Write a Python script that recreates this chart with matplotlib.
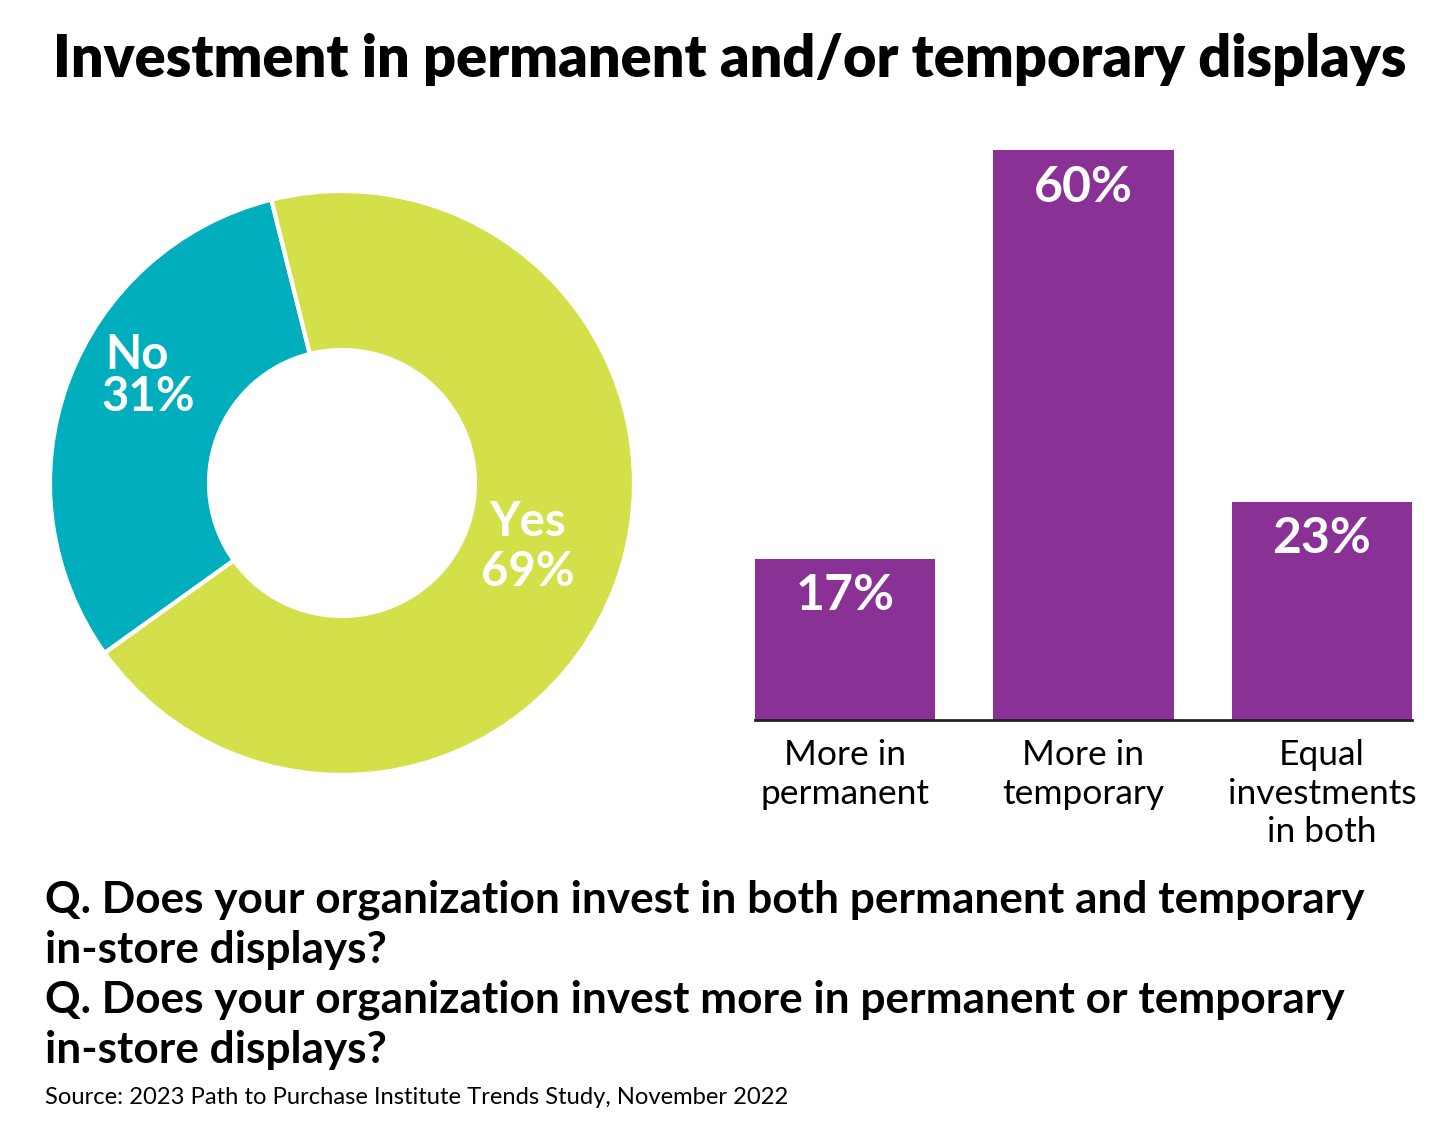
import matplotlib.pyplot as plt

# Data
pie_labels = ["No", "Yes"]
pie_values = [31, 69]
bar_labels = ["More in\npermanent", "More in\ntemporary", "Equal\ninvestments\nin both"]
bar_values = [17, 60, 23]

title = "Investment in permanent and/or temporary displays"
question_lines = [
    "Q. Does your organization invest in both permanent and temporary",
    "in-store displays?",
    "Q. Does your organization invest more in permanent or temporary",
    "in-store displays?",
]
source = "Source: 2023 Path to Purchase Institute Trends Study, November 2022"

teal = "#00AEBD"
lime = "#D4E04A"
purple = "#8A3196"

plt.rcParams['font.family'] = ['Lato', 'DejaVu Sans']

W, H = 1440, 1141
fig = plt.figure(figsize=(W / 100, H / 100), dpi=100)

def px_axes(x0, y0, x1, y1):
    # pixel box (top-left origin) -> figure fraction axes
    return fig.add_axes([x0 / W, 1 - y1 / H, (x1 - x0) / W, (y1 - y0) / H])

fig.text(730 / W, 1 - 60 / H, title, ha="center", va="center",
         fontsize=41.5, fontweight="heavy", color="black")

# Donut
cx, cy, r = 342, 483, 292
ax1 = px_axes(cx - r, cy - r, cx + r, cy + r)
wedges, _ = ax1.pie(pie_values, colors=[teal, lime], startangle=104,
                    counterclock=True, radius=1,
                    wedgeprops=dict(width=1 - 133 / 292, edgecolor="white", linewidth=3))
ax1.set_xlim(-1, 1)
ax1.set_ylim(-1, 1)
ax1.set_aspect("equal")
ax1.axis("off")

def ring_text(px, py, s):
    ax1.text((px - cx) / r, (cy - py) / r, s, ha="center", va="center",
             color="white", fontsize=34, fontweight="bold")

ring_text(137, 355, pie_labels[0])
ring_text(148, 397, f"{pie_values[0]}%")
ring_text(528, 522, pie_labels[1])
ring_text(528, 572, f"{pie_values[1]}%")

# Bars
ax2 = px_axes(755, 150, 1412, 720)
x = range(len(bar_values))
bars = ax2.bar(x, bar_values, width=0.756, color=purple)
ax2.set_xlim(-0.378, 2.378)
ax2.set_ylim(0, 60)
for s in ["top", "right", "left"]:
    ax2.spines[s].set_visible(False)
ax2.spines["bottom"].set_linewidth(2)
ax2.spines["bottom"].set_color("#222222")
ax2.set_yticks([])
ax2.set_xticks(list(x))
ax2.set_xticklabels(bar_labels, fontsize=25.5, linespacing=1.25, va="top")
ax2.tick_params(axis="x", length=0, pad=14)
for i, v in enumerate(bar_values):
    ax2.text(i, v - 3.9, f"{v}%", ha="center", va="center",
             color="white", fontsize=36, fontweight="bold")

# Questions + source
for k, line in enumerate(question_lines):
    fig.text(45 / W, 1 - (900 + 50 * k) / H, line, ha="left", va="center",
             fontsize=31.8, fontweight="bold")
fig.text(45 / W, 1 - 1097 / H, source, ha="left", va="center", fontsize=17.1)

fig.savefig("out.png", dpi=100, facecolor="white")
